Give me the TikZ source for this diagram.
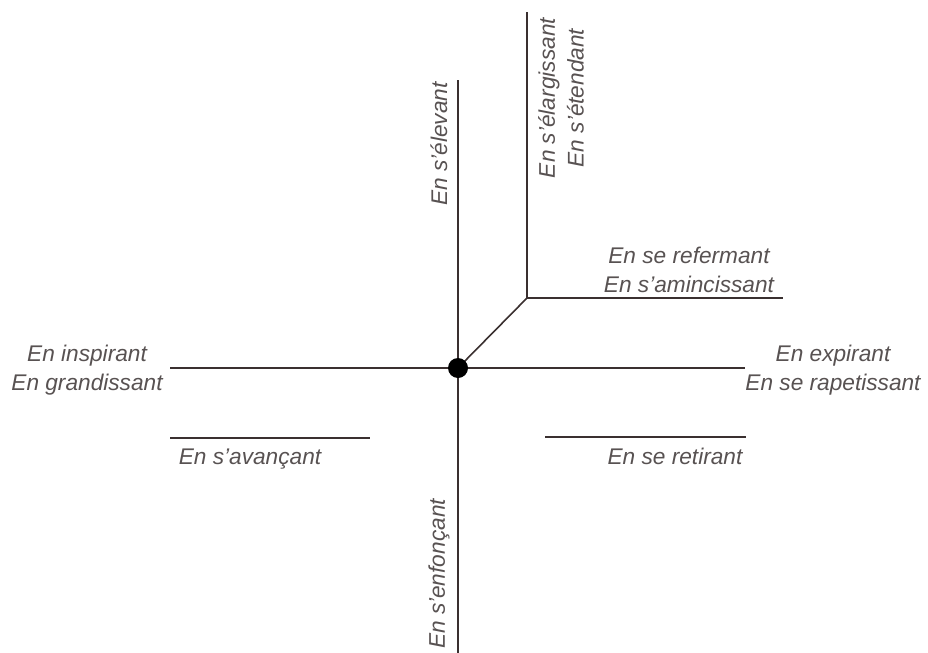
\documentclass[tikz,border=0pt]{standalone}
\usepackage{fontspec}
\setmainfont{Liberation Sans}
\usetikzlibrary{positioning}
\definecolor{linecol}{RGB}{58,48,48}
\definecolor{textcol}{RGB}{88,82,82}
\tikzstyle{stroke} = [line width=1.2pt, draw=linecol]
\tikzstyle{gesture} = [text=textcol, font=\itshape\fontsize{17}{21.5}\selectfont, align=center, inner sep=0pt]
\tikzstyle{dot} = [circle, fill=black, minimum size=15pt, inner sep=0pt]

\begin{document}
\begin{tikzpicture}[x=0.75pt, y=0.75pt]

\useasboundingbox (0,0) rectangle (928,-653);

\coordinate (o) at (458,-368);
\coordinate (up) at (458,-80);
\coordinate (down) at (458,-653);
\coordinate (west) at (170,-368);
\coordinate (east) at (745,-368);
\coordinate (bend) at (527,-298);
\coordinate (high) at (527,-12);
\coordinate (far) at (783,-298);
\coordinate (fwdL) at (170,-438);
\coordinate (fwdR) at (370,-438);
\coordinate (backL) at (545,-437);
\coordinate (backR) at (746,-437);

\draw [stroke] (up) -- (down);
\draw [stroke] (west) -- (east);
\draw [stroke] (o) -- (bend);
\draw [stroke] (high) -- (bend) -- (far);
\draw [stroke] (fwdL) -- (fwdR);
\draw [stroke] (backL) -- (backR);

\node (centre) [dot] at (o) {};

\node (inspire) [gesture] at (87,-370) {En inspirant\\En grandissant};
\node (expire) [gesture] at (833,-370) {En expirant\\En se rapetissant};
\node (close) [gesture] at (689,-270) {En se refermant\\En s’amincissant};
\node (forward) [gesture] at (250,-459) {En s’avançant};
\node (backward) [gesture] at (675,-456) {En se retirant};
\node (rise) [gesture, rotate=90] at (439,-144) {En s’élevant};
\node (widen) [gesture, rotate=90] at (561,-98) {En s’élargissant\\En s’étendant};
\node (sink) [gesture, rotate=90] at (439,-574) {En s’enfonçant};

\end{tikzpicture}
\end{document}
